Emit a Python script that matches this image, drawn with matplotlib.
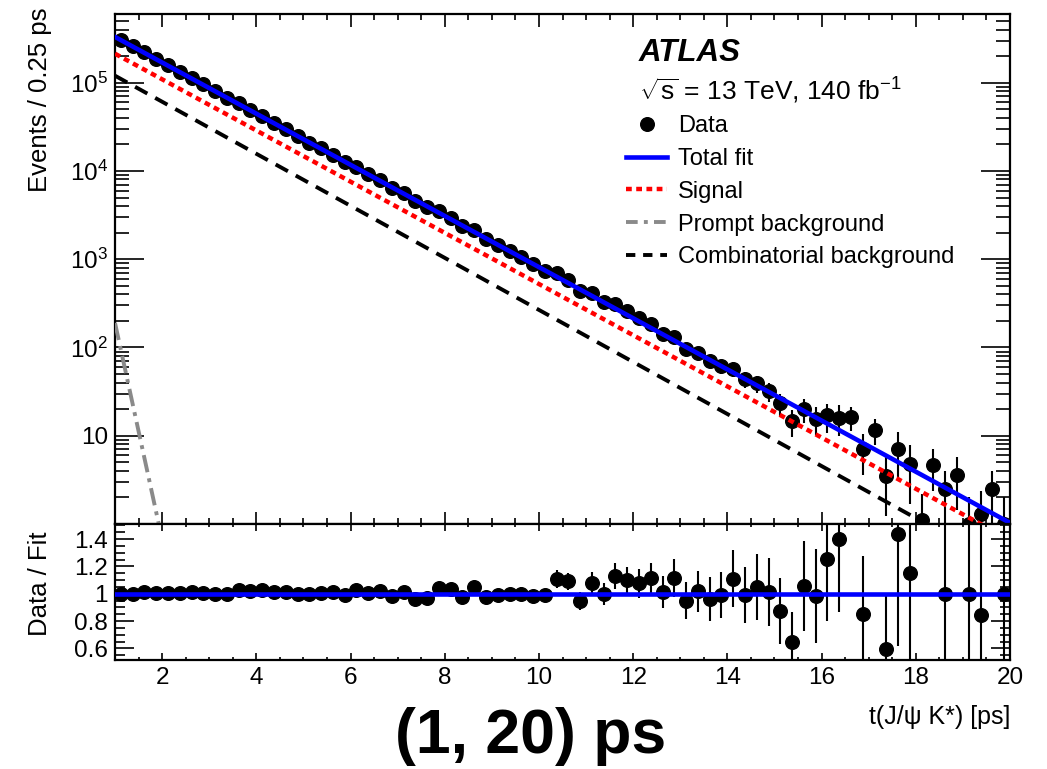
import numpy as np
import matplotlib
matplotlib.use("Agg")
import matplotlib.pyplot as plt
from matplotlib.ticker import FixedLocator, LogLocator, MultipleLocator, FuncFormatter, NullFormatter
from matplotlib.lines import Line2D

plt.rcParams['font.family'] = ['Liberation Sans', 'DejaVu Sans']
plt.rcParams['mathtext.fontset'] = 'custom'
plt.rcParams['mathtext.rm'] = 'Liberation Sans'
plt.rcParams['mathtext.it'] = 'Liberation Sans:italic'
plt.rcParams['mathtext.bf'] = 'Liberation Sans:bold'

# === Binning: 0.25 ps bins from 1 to 20 ps ===
bin_width = 0.25
t_lo, t_hi = 1.0, 20.0
t_centers = np.arange(t_lo, t_hi, bin_width) + bin_width / 2

# events per bin
counts = np.array([
    303200, 257800, 220900, 186000, 157400, 133200, 113300, 95430,
    79810, 67540, 58990, 49540, 42140, 35180, 29890, 24950,
    21000, 17960, 15330, 12650, 11090, 9220, 7910, 6470,
    5630, 4510, 3860, 3520, 2950, 2350, 2150, 1690,
    1450, 1233, 1048, 874, 743, 704, 586, 433,
    417, 325, 312, 257, 213, 186, 143, 133,
    96.3, 87.4, 69.8, 60.9, 57.7, 43.7, 39.1, 32.0,
    23.3, 14.5, 20.0, 15.6, 17.0, 16.0, 16.1, 7.0,
    11.7, 3.5, 7.1, 4.8, 1.1, 4.7, 2.5, 3.6,
    1.0, 1.3, 2.5, 1.0])

# data / total fit (nan = outside the ratio frame)
nan = np.nan
ratio = np.array([
    0.995, 1.000, 1.012, 1.007, 1.007, 1.007, 1.012, 1.007,
    0.995, 0.995, 1.027, 1.019, 1.024, 1.010, 1.014, 1.000,
    0.995, 1.005, 1.014, 0.988, 1.024, 1.005, 1.019, 0.985,
    1.012, 0.958, 0.970, 1.045, 1.035, 0.975, 1.052, 0.978,
    0.990, 0.995, 1.000, 0.985, 0.990, 1.107, 1.090, 0.950,
    1.082, 0.998, 1.130, 1.100, 1.075, 1.114, 1.010, 1.114,
    0.950, 1.017, 0.960, 0.990, 1.110, 0.990, 1.048, 1.014,
    0.873, 0.645, 1.055, 0.983, 1.255, 1.400, nan, 0.855,
    nan, 0.598, 1.434, 1.152, nan, nan, 0.995, nan,
    1.000, 0.846, nan, 1.000])

# relative uncertainty per bin
rel_err = np.array([
    0.003, 0.003, 0.003, 0.004, 0.004, 0.004, 0.005, 0.005,
    0.005, 0.006, 0.006, 0.007, 0.007, 0.008, 0.009, 0.009,
    0.010, 0.011, 0.012, 0.013, 0.014, 0.016, 0.017, 0.018,
    0.020, 0.022, 0.024, 0.025, 0.028, 0.030, 0.033, 0.036,
    0.039, 0.042, 0.046, 0.044, 0.048, 0.057, 0.059, 0.069,
    0.072, 0.078, 0.085, 0.090, 0.100, 0.100, 0.116, 0.126,
    0.142, 0.150, 0.170, 0.172, 0.190, 0.210, 0.230, 0.245,
    0.280, 0.340, 0.310, 0.350, 0.360, 0.380, 0.300, 0.490,
    0.330, 0.650, 0.570, 0.650, 1.000, 0.500, 0.600, 0.600,
    1.000, 0.800, 0.600, 1.000])

# === Fit components (exponentials -> straight lines on log scale) ===
fit_t = [1.0, 20.0]
total_fit = [3.3e5, 1.03]
signal_fit = [2.13e5, 0.66]
comb_fit = [1.2e5, 0.30]
prompt_t = [1.0, 2.0]
prompt_fit = [190.0, 0.67]

ratio_lo, ratio_hi = 0.515, 1.51

# === Figure layout ===
W, H = 1047, 769
fig = plt.figure(figsize=(W / 100, H / 100), dpi=100)
left, right = 115 / W, 1010 / W
ax1 = fig.add_axes([left, 1 - 524 / H, right - left, (524 - 14) / H])
ax2 = fig.add_axes([left, 1 - 660 / H, right - left, (660 - 524) / H], sharex=ax1)

ms = 9.8
blue, red, grey = '#0000ff', '#ff0000', '#8a8a8a'

# --- upper panel ---
ax1.errorbar(t_centers, counts, yerr=counts * rel_err, fmt='o', color='black',
             ms=ms, elinewidth=1.5, capsize=0, zorder=2)
ax1.plot(prompt_t, prompt_fit, color=grey, lw=2.8, ls=(0, (4.5, 1.6, 1.0, 1.6)), zorder=3)
ax1.plot(fit_t, comb_fit, color='black', lw=2.8, ls=(0, (3.6, 2.3)), zorder=3)
ax1.plot(fit_t, signal_fit, color=red, lw=3.2, ls=(0, (1.3, 1.0)), zorder=4)
ax1.plot(fit_t, total_fit, color=blue, lw=3.3, zorder=5)

ax1.set_yscale('log')
ax1.set_xlim(t_lo, t_hi)
ax1.set_ylim(1.0, 6e5)

def log_label(v, pos):
    if v == 10:
        return '10'
    return r'$10^{%d}$' % round(np.log10(v))

ax1.yaxis.set_major_locator(FixedLocator([10, 1e2, 1e3, 1e4, 1e5]))
ax1.yaxis.set_major_formatter(FuncFormatter(log_label))
ax1.yaxis.set_minor_locator(LogLocator(base=10, subs=np.arange(2, 10), numticks=20))
ax1.yaxis.set_minor_formatter(NullFormatter())
ax1.xaxis.set_major_locator(MultipleLocator(2))
ax1.xaxis.set_minor_locator(MultipleLocator(0.5))
ax1.tick_params(which='both', direction='in', top=True, right=True, width=1.2,
                labelsize=17.5, labelbottom=False)
ax1.tick_params(axis='y', which='major', length=21, pad=5)
ax1.tick_params(axis='y', which='minor', length=10)
ax1.tick_params(axis='x', which='major', length=9)
ax1.tick_params(axis='x', which='minor', length=4.5)

# --- ratio panel ---
shown = ~np.isnan(ratio)
ax2.errorbar(t_centers[shown], ratio[shown], yerr=ratio[shown] * rel_err[shown], fmt='o',
             color='black', ms=ms, elinewidth=1.5, capsize=0, zorder=2)
ax2.axhline(1.0, color=blue, lw=3.3, zorder=5)
ax2.set_ylim(ratio_lo, ratio_hi)
ax2.yaxis.set_major_locator(FixedLocator([0.6, 0.8, 1.0, 1.2, 1.4]))
ax2.yaxis.set_major_formatter(FuncFormatter(lambda v, p: '%g' % v))
ax2.yaxis.set_minor_locator(MultipleLocator(0.05))
ax2.tick_params(which='both', direction='in', top=True, right=True, width=1.2, labelsize=17.5)
ax2.tick_params(axis='y', which='major', length=14, pad=5)
ax2.tick_params(axis='y', which='minor', length=7)
ax2.tick_params(axis='x', which='major', length=5, pad=5)
ax2.tick_params(axis='x', which='minor', length=2.5)

for ax in (ax1, ax2):
    for sp in ax.spines.values():
        sp.set_linewidth(1.6)

# --- legend and labels ---
handles = [
    Line2D([], [], marker='o', ls='none', color='black', ms=ms),
    Line2D([], [], color=blue, lw=3.3),
    Line2D([], [], color=red, lw=3.2, ls=(0, (1.3, 1.0))),
    Line2D([], [], color=grey, lw=2.8, ls=(0, (3.0, 1.6, 1.0, 1.6))),
    Line2D([], [], color='black', lw=2.8, ls=(0, (2.4, 2.0))),
]
labels = ['Data', 'Total fit', 'Signal', 'Prompt background', 'Combinatorial background']
ax1.legend(handles, labels, loc='upper left', bbox_to_anchor=(626 / W, 1 - 115 / H),
           bbox_transform=fig.transFigure, frameon=False, fontsize=17,
           handlelength=1.75, handletextpad=0.45, labelspacing=0.46,
           borderpad=0, borderaxespad=0)

fig.text(639 / W, 1 - 53 / H, 'ATLAS', fontsize=22.5, weight='bold', style='italic', va='center')
fig.text(639 / W, 1 - 91 / H, r'$\sqrt{\mathrm{s}}$ = 13 TeV, 140 fb$^{\mathrm{-1}}$',
         fontsize=19, va='center')

fig.text(40 / W, 1 - 7 / H, 'Events / 0.25 ps', rotation=90, ha='center', va='top', fontsize=18.5)
fig.text(40 / W, 1 - 584 / H, 'Data / Fit', rotation=90, ha='center', va='center', fontsize=18.5)
fig.text(1010 / W, 1 - 717 / H, 't(J/ψ K*) [ps]', ha='right', va='center', fontsize=18)
fig.text(531 / W, 1 - 737 / H, '(1, 20) ps', ha='center', va='center', fontsize=45, weight='bold')

fig.savefig('out.png', dpi=100)
